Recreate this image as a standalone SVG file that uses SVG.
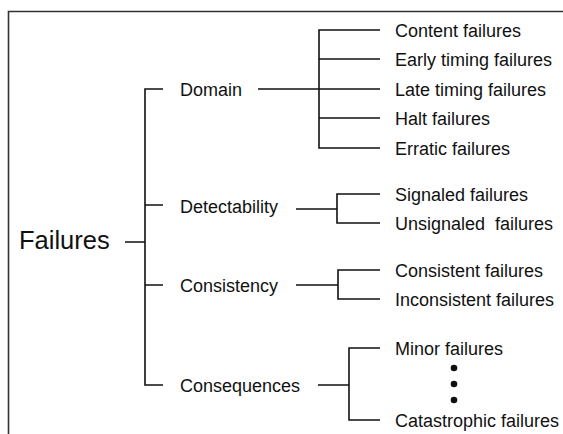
<svg xmlns="http://www.w3.org/2000/svg" width="563" height="434" viewBox="0 0 563 434">
<style>
text{font-family:"Liberation Sans",Arial,sans-serif;fill:#111;white-space:pre}
.n{font-size:18px}
.root{font-size:25.5px}
.c{fill:none;stroke:#111;stroke-width:1.6}
</style>
<rect x="0" y="0" width="563" height="434" fill="#fff"/>
<path d="M8.5,440 V11.5 H570" fill="none" stroke="#333" stroke-width="1.6"/>
<g id="connectors" class="c">
<path d="M125,242 H145 M163,89 H145 V385 H163 M145,205 H163 M145,285 H163"/>
<path d="M258,89 H380 M380,30 H319 V148 H380 M319,59 H380 M319,118 H380"/>
<path d="M296,209 H337 M380,194 H337 V223 H380"/>
<path d="M296,285 H338 M380,270 H338 V299 H380"/>
<path d="M318,385 H349 M380,348 H349 V420 H380"/>
</g>
<g id="failures"><text class="root" x="19" y="249">Failures</text></g>
<g id="domain"><text class="n" x="180" y="96">Domain</text></g>
<g id="detectability"><text class="n" x="180" y="213">Detectability</text></g>
<g id="consistency"><text class="n" x="180" y="292">Consistency</text></g>
<g id="consequences"><text class="n" x="180" y="392">Consequences</text></g>
<g id="content"><text class="n" x="395" y="37">Content failures</text></g>
<g id="early"><text class="n" x="395" y="66">Early timing failures</text></g>
<g id="late"><text class="n" x="395" y="96">Late timing failures</text></g>
<g id="halt"><text class="n" x="395" y="125">Halt failures</text></g>
<g id="erratic"><text class="n" x="395" y="155">Erratic failures</text></g>
<g id="signaled"><text class="n" x="395" y="201">Signaled failures</text></g>
<g id="unsignaled"><text class="n" x="395" y="230">Unsignaled  failures</text></g>
<g id="consistent"><text class="n" x="395" y="277">Consistent failures</text></g>
<g id="inconsistent"><text class="n" x="395" y="306">Inconsistent failures</text></g>
<g id="minor"><text class="n" x="395" y="355">Minor failures</text></g>
<g id="dots" fill="#111"><circle cx="454" cy="368" r="3.3"/><circle cx="454" cy="384" r="3.3"/><circle cx="454" cy="400" r="3.3"/></g>
<g id="catastrophic"><text class="n" x="395" y="427">Catastrophic failures</text></g>
</svg>
